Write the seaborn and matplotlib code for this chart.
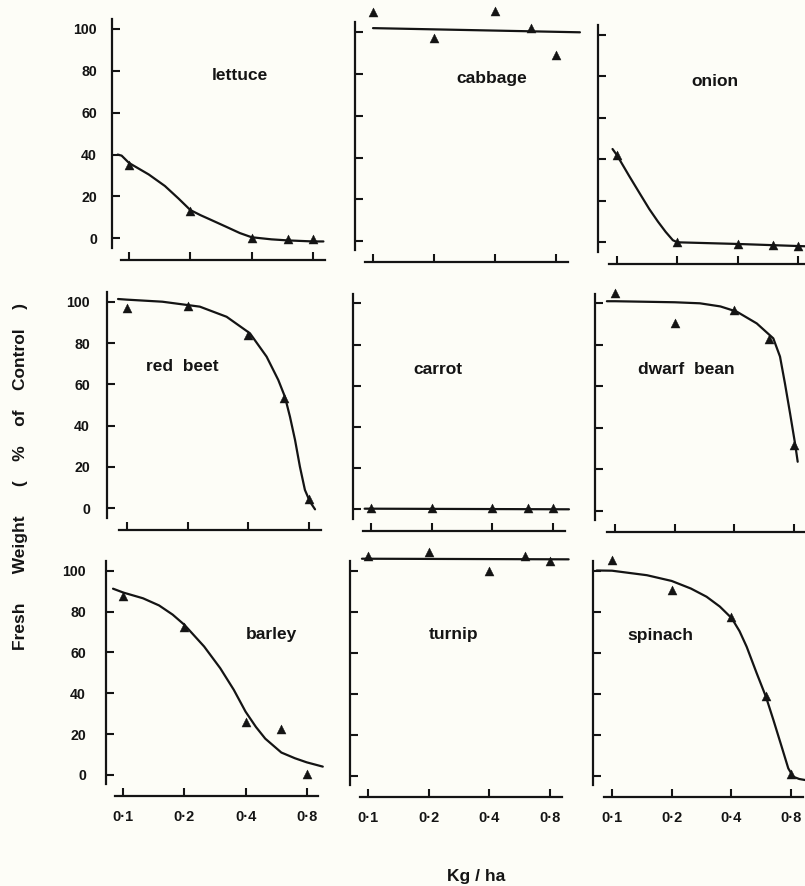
import matplotlib
matplotlib.use("Agg")
import matplotlib.pyplot as plt
from matplotlib.ticker import NullLocator, FixedLocator, NullFormatter, FixedFormatter
import pandas as pd
import seaborn as sns

# ---------------- data ----------------
crops = ["lettuce", "cabbage", "onion",
         "red  beet", "carrot", "dwarf  bean",
         "barley", "turnip", "spinach"]
doses = [0.1, 0.2, 0.4, 0.6, 0.8]
x_ticks = [0.1, 0.2, 0.4, 0.8]
x_tick_labels = ["0·1", "0·2", "0·4", "0·8"]
y_ticks = [0, 20, 40, 60, 80, 100]
y_tick_labels = ["0", "20", "40", "60", "80", "100"]

lettuce_pts = [35, 13, 0, -0.5, -0.5]
cabbage_pts = [109.5, 97.3, 110.2, 102, 89.3]
onion_pts = [42, 0, -1, -1.5, -2]
redbeet_pts = [97, 98, 84, 53.5, 4.5]
carrot_pts = [0.8, 0.6, 0.6, 0.6, 0.6]
dwarfbean_pts = [105, 90.5, 96.6, 83, 31.7]
barley_pts = [87.4, 72.2, 26.1, 22.4, 0.3]
turnip_pts = [107.2, 109.5, 100.1, 107.2, 105]
spinach_pts = [105.4, 90.4, 77.4, 39, 0.8]

lettuce_cx = [0.088, 0.092, 0.1, 0.125, 0.15, 0.175, 0.2, 0.225, 0.25, 0.3, 0.35, 0.4, 0.5, 0.6, 0.8, 0.9]
lettuce_cy = [40, 39.5, 36, 30.5, 25, 19, 13.5, 11, 9, 5.5, 2.5, 0.5, -0.5, -1, -1.5, -1.5]
cabbage_cx = [0.1, 1.05]
cabbage_cy = [102, 100]
onion_cx = [0.095, 0.1, 0.115, 0.13, 0.145, 0.16, 0.175, 0.19, 0.2, 0.4, 0.8, 0.92]
onion_cy = [45, 42, 32, 23.5, 16, 10, 5, 1, 0, -0.8, -1.8, -2]
redbeet_cx = [0.0906, 0.1, 0.15, 0.23, 0.312, 0.407, 0.492, 0.562, 0.606, 0.642, 0.68,
              0.719, 0.761, 0.806, 0.854]
redbeet_cy = [101.3, 101, 100, 97.6, 92.7, 84.7, 73.4, 62.1, 54, 44.3, 33.1,
              20.1, 8.9, 3.2, -0.5]
carrot_cx = [0.093, 0.96]
carrot_cy = [0.3, 0.0]
dwarfbean_cx = [0.091, 0.1, 0.2, 0.268, 0.34, 0.411, 0.519, 0.629, 0.68, 0.72, 0.764, 0.812, 0.835]
dwarfbean_cy = [101, 101, 100.5, 100, 98.5, 96, 90.3, 83.1, 74.3, 61.4, 47, 31.7, 23.6]
barley_cx = [0.089, 0.1, 0.125, 0.15, 0.175, 0.2, 0.25, 0.3, 0.35, 0.4, 0.45, 0.5, 0.6, 0.7, 0.8, 0.96]
barley_cy = [91.2, 89.3, 86.5, 83, 78.5, 73.5, 62.9, 52.3, 41.7, 31, 23.5, 17.8, 11, 8.2, 6.2, 4.1]
turnip_cx = [0.093, 0.99]
turnip_cy = [106, 105.7]
spinach_cx = [0.0837, 0.1, 0.15, 0.2, 0.25, 0.3, 0.35, 0.402, 0.44, 0.478, 0.537, 0.598, 0.652, 0.718,
              0.775, 0.821, 0.88, 0.941]
spinach_cy = [100.1, 100, 97.8, 95, 91.3, 87.3, 82.5, 76.8, 70.5, 62.9, 50, 38.5, 27.2, 14.1,
              3.6, -0.5, -1.6, -2.1]

points = [lettuce_pts, cabbage_pts, onion_pts, redbeet_pts, carrot_pts,
          dwarfbean_pts, barley_pts, turnip_pts, spinach_pts]
curves_x = [lettuce_cx, cabbage_cx, onion_cx, redbeet_cx, carrot_cx,
            dwarfbean_cx, barley_cx, turnip_cx, spinach_cx]
curves_y = [lettuce_cy, cabbage_cy, onion_cy, redbeet_cy, carrot_cy,
            dwarfbean_cy, barley_cy, turnip_cy, spinach_cy]

# ---------------- layout (pixels) ----------------
W, H = 805, 886
BG = "#fdfdf7"
INK = "#141414"
# spine_x, x(0.1), x(0.8), y(100), y(0)
geometry = [
    (112, 129, 313, 29, 238.3),
    (355, 373, 556, 32.3, 241),
    (598, 617, 798, 35, 242.3),
    (107, 126.7, 309.3, 301.7, 508.3),
    (353, 371, 553, 303.3, 509.3),
    (595, 615, 794, 303.3, 510.7),
    (106, 123.3, 306.7, 570.7, 775),
    (350, 368.3, 550, 571, 775.7),
    (593, 612, 791, 570.7, 775.7),
]
label_pos = [(240, 75), (491.7, 79), (715, 81.7),
             (182.7, 366), (438.3, 369), (686.7, 370),
             (271.7, 634.3), (454, 634.3), (660, 635.3)]
ypad_px = [15, 0, 0, 17, 0, 0, 20, 0, 0]

sns.set_theme(style="white")
plt.rcParams["font.family"] = ["Liberation Sans", "DejaVu Sans"]
plt.rcParams["font.weight"] = "bold"

fig = plt.figure(figsize=(W / 100, H / 100), dpi=100, facecolor=BG)
YLO, YHI = -4.5, 104.7
PT = 0.72  # points per pixel at 100 dpi

for i, name in enumerate(crops):
    spine, x01, x08, y100, y0 = geometry[i]
    s = (x08 - x01) / 3.0
    right = x08 + 40
    ppu = (y0 - y100) / 100.0
    top = y100 - (YHI - 100) * ppu
    bottom = y0 - YLO * ppu
    ax = fig.add_axes([spine / W, 1 - bottom / H, (right - spine) / W, (bottom - top) / H])
    ax.set_facecolor("none")
    ax.set_xscale("log", base=2)
    ax.set_xlim(0.1 * 2 ** ((spine - x01) / s), 0.1 * 2 ** ((right - x01) / s))
    ax.set_ylim(YLO, YHI)

    df_c = pd.DataFrame({"x": curves_x[i], "y": curves_y[i]})
    sns.lineplot(data=df_c, x="x", y="y", ax=ax, color=INK, linewidth=1.6,
                 sort=False, estimator=None)
    df_p = pd.DataFrame({"x": doses, "y": points[i]})
    sns.scatterplot(data=df_p, x="x", y="y", ax=ax, marker="^", s=42, color=INK,
                    edgecolor=INK, linewidth=0.3, zorder=3)
    for ln in ax.lines:
        ln.set_clip_on(False)
        ln.set_solid_joinstyle("round")
    for coll in ax.collections:
        coll.set_clip_on(False)

    ax.set_xlabel("")
    ax.set_ylabel("")
    for sp in ("top", "right"):
        ax.spines[sp].set_visible(False)
    ax.spines["left"].set_linewidth(1.6)
    ax.spines["left"].set_color(INK)
    ax.spines["bottom"].set_linewidth(1.6)
    ax.spines["bottom"].set_color(INK)
    ax.spines["bottom"].set_position(("outward", 12 * PT))
    ax.spines["bottom"].set_bounds(0.1 * 2 ** (-8 / s), 0.8 * 2 ** (11.5 / s))

    ax.xaxis.set_major_locator(FixedLocator(x_ticks))
    ax.xaxis.set_minor_locator(NullLocator())
    ax.yaxis.set_major_locator(FixedLocator(y_ticks))
    ax.yaxis.set_minor_locator(NullLocator())
    ax.tick_params(axis="both", which="major", direction="in", length=8 * PT,
                   width=1.5, color=INK, labelcolor=INK,
                   bottom=True, left=True, top=False, right=False)
    ax.tick_params(axis="both", which="minor", length=0)
    row, col = divmod(i, 3)
    if row == 2:
        ax.xaxis.set_major_formatter(FixedFormatter(x_tick_labels))
        ax.tick_params(axis="x", labelsize=10.5, pad=14 * PT)
    else:
        ax.xaxis.set_major_formatter(NullFormatter())
    if col == 0:
        ax.yaxis.set_major_formatter(FixedFormatter(y_tick_labels))
        ax.tick_params(axis="y", labelsize=10.2, pad=ypad_px[i] * PT)
    else:
        ax.yaxis.set_major_formatter(NullFormatter())
    for lab in ax.get_xticklabels() + ax.get_yticklabels():
        lab.set_fontweight("bold")

    lx, ly = label_pos[i]
    fig.text(lx / W, 1 - ly / H, name, ha="center", va="center",
             fontsize=12.5, fontweight="bold", color=INK)

fig.text(21 / W, 1 - 476 / H, "Fresh      Weight      (    %    of    Control    )",
         rotation=90, ha="center", va="center", fontsize=12.5, fontweight="bold", color=INK)
fig.text(476 / W, 1 - 877 / H, "Kg / ha", ha="center", va="center",
         fontsize=12.5, fontweight="bold", color=INK)

fig.savefig("out.png", dpi=100, facecolor=BG)
